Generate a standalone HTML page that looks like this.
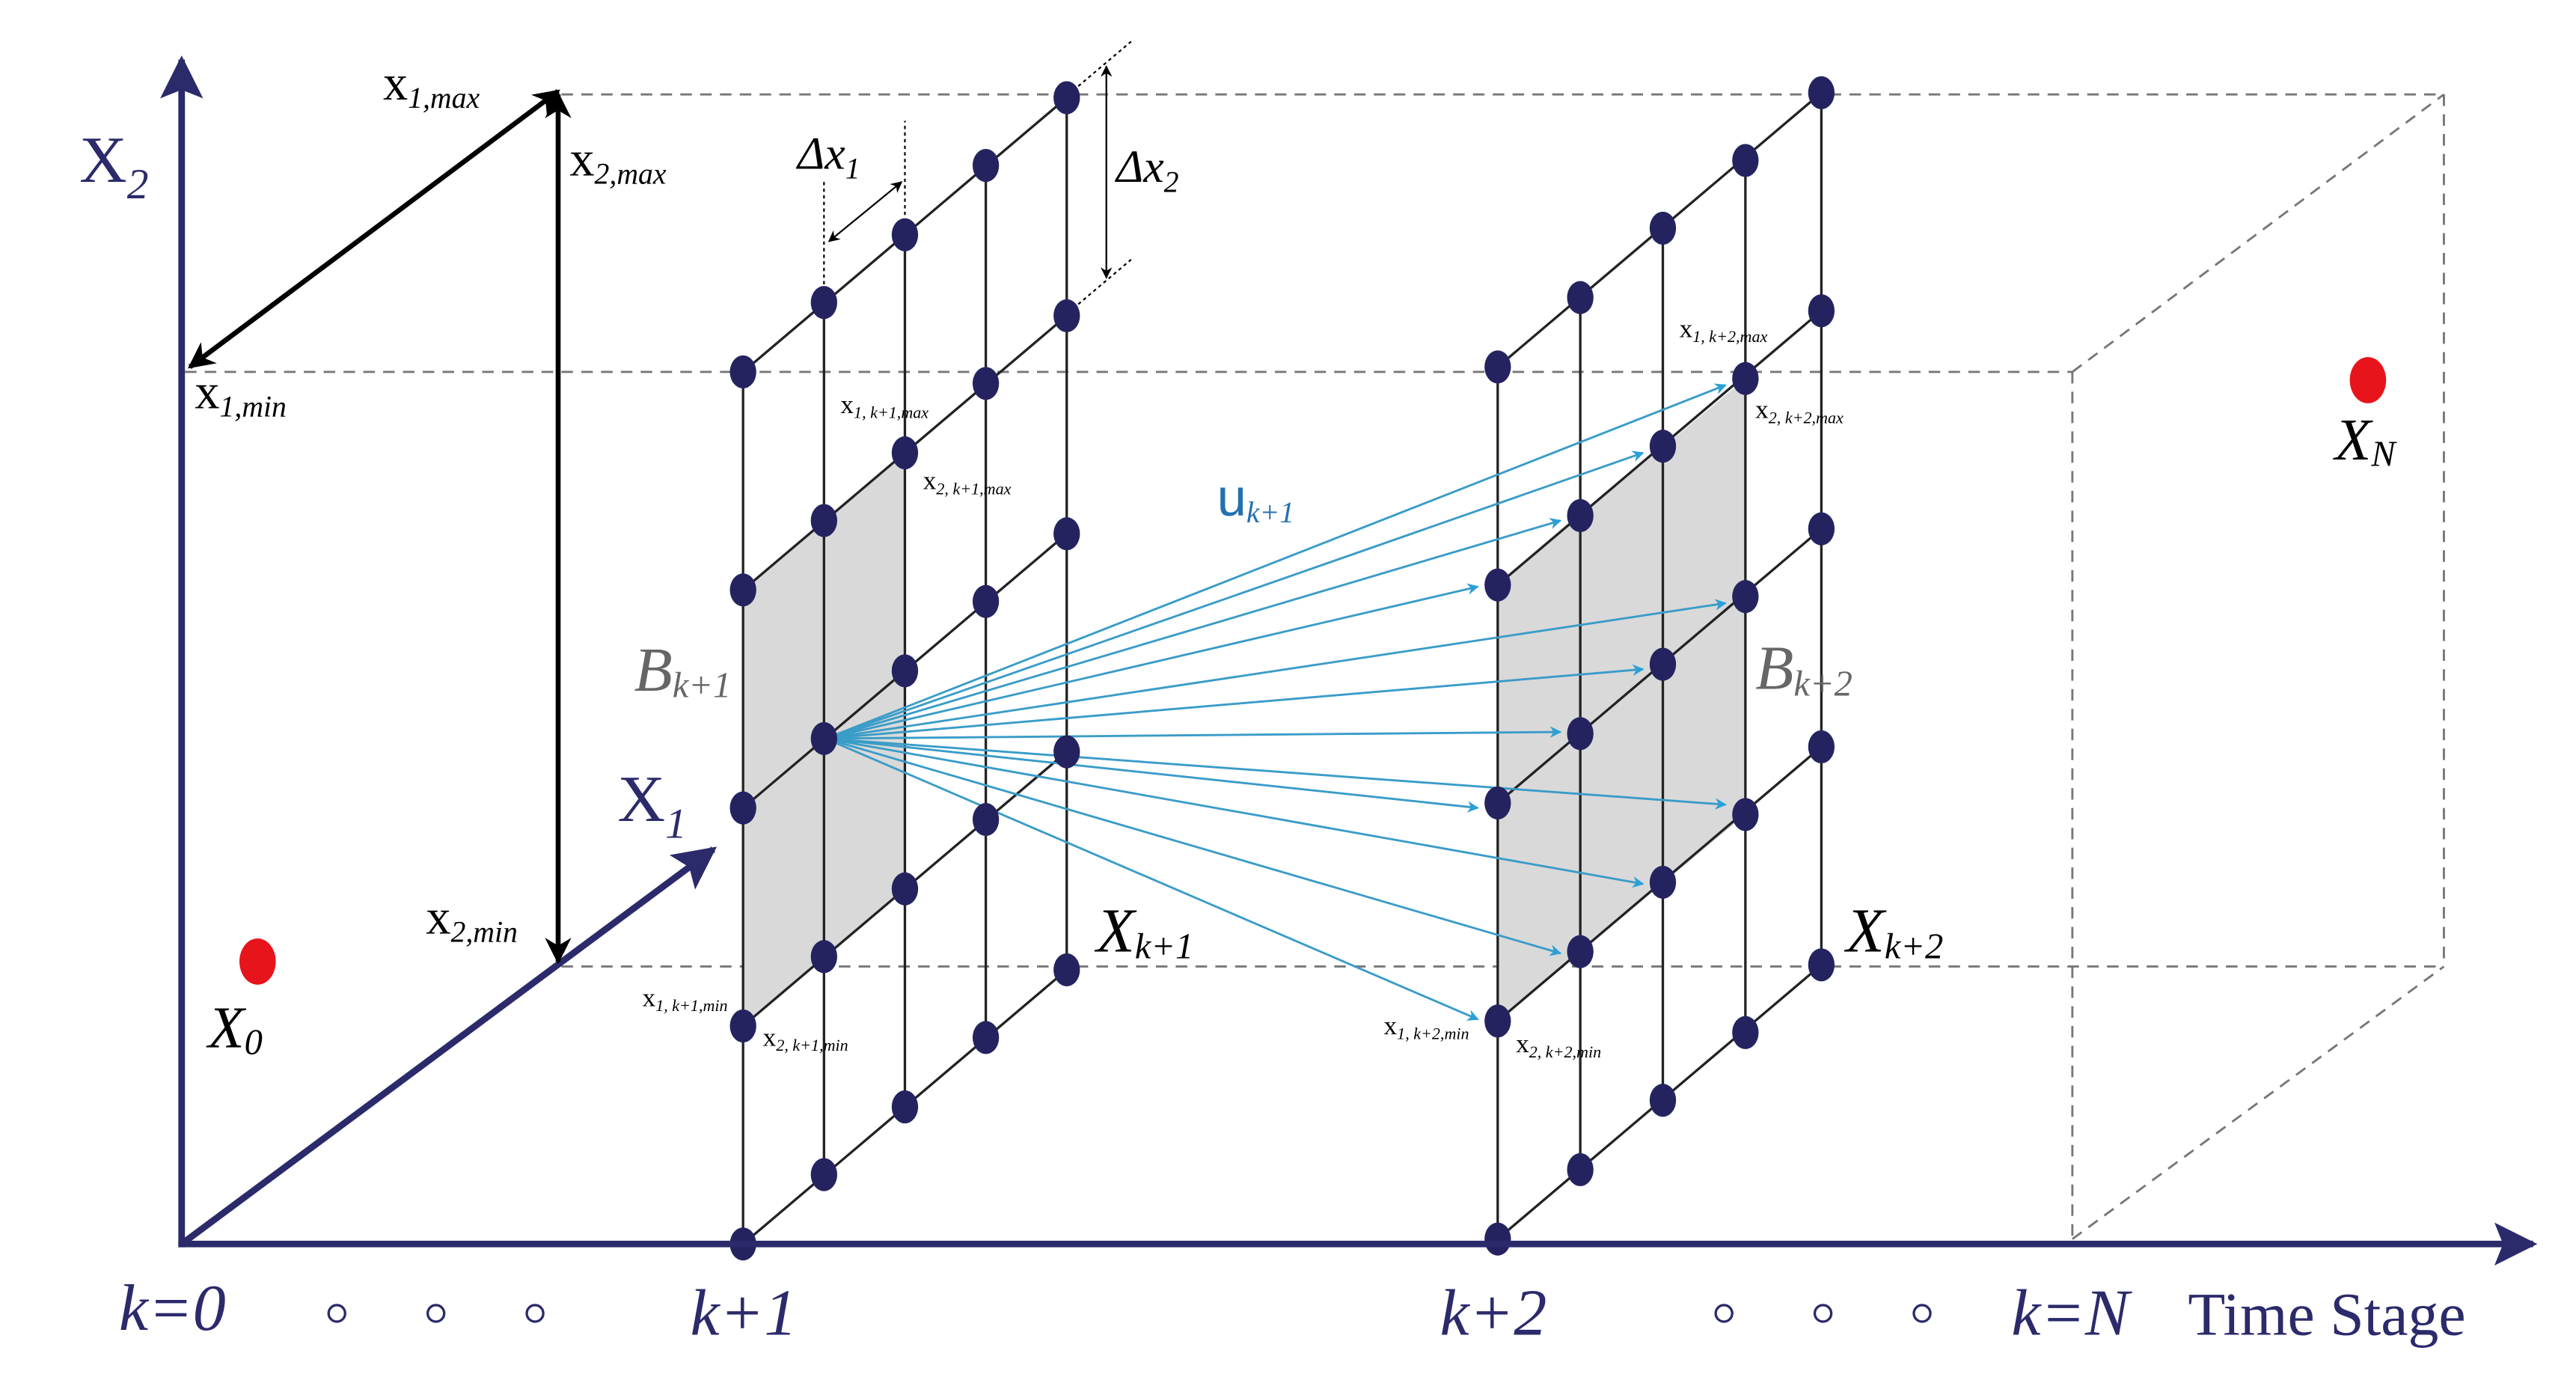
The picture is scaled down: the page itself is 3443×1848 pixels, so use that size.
<!DOCTYPE html>
<html><head><meta charset="utf-8"><style>html,body{margin:0;padding:0;background:#fff}svg{display:block}</style></head>
<body>
<svg width="3443" height="1848" viewBox="0 0 1560 837" xmlns="http://www.w3.org/2000/svg" font-family="'Liberation Serif', serif">
<defs>
<marker id="bl" viewBox="0 0 10 10" refX="9" refY="5" markerWidth="9" markerHeight="7" markerUnits="userSpaceOnUse" orient="auto"><path d="M0,0 L10,5 L0,10 L3,5 z" fill="#2aa0d6"/></marker>
<marker id="bk" viewBox="0 0 10 10" refX="9" refY="5" markerWidth="20" markerHeight="16" markerUnits="userSpaceOnUse" orient="auto-start-reverse"><path d="M0,0 L10,5 L0,10 L3,5 z" fill="#000"/></marker>
<marker id="sk" viewBox="0 0 10 10" refX="9" refY="5" markerWidth="9" markerHeight="7" markerUnits="userSpaceOnUse" orient="auto-start-reverse"><path d="M0,0 L10,5 L0,10 L3,5 z" fill="#000"/></marker>
<marker id="nv" viewBox="0 0 10 10" refX="9" refY="5" markerWidth="34" markerHeight="26" markerUnits="userSpaceOnUse" orient="auto"><path d="M0,0 L10,5 L0,10 L2,5 z" fill="#2b2a6b"/></marker>
</defs>

<!-- dashed -->
<g stroke="#777" stroke-width="1.3" stroke-dasharray="7,5" fill="none">
<line x1="112" y1="225" x2="1255" y2="225"/>
<line x1="340" y1="57" x2="1480" y2="57"/>
<line x1="340" y1="585" x2="1480" y2="585"/>
<line x1="1255" y1="225" x2="1480" y2="57"/>
<line x1="1255" y1="225" x2="1255" y2="750"/>
<line x1="1255" y1="750" x2="1480" y2="585"/>
<line x1="1480" y1="57" x2="1480" y2="585"/>
</g>

<!-- shaded planes -->
<polygon points="450,357 548,274 548,538 450,621" fill="#d9d9d9"/>
<polygon points="907,354 1057,229 1057,493 907,618" fill="#d9d9d9"/>

<!-- grid lines -->
<g stroke="#222" stroke-width="1.5" fill="none">
<line x1="450" y1="225" x2="450" y2="753"/><line x1="499" y1="183" x2="499" y2="711"/><line x1="548" y1="142" x2="548" y2="670"/><line x1="597" y1="100" x2="597" y2="628"/><line x1="646" y1="59" x2="646" y2="587"/>
<line x1="450" y1="225" x2="646" y2="59"/><line x1="450" y1="357" x2="646" y2="191"/><line x1="450" y1="489" x2="646" y2="323"/><line x1="450" y1="621" x2="646" y2="455"/><line x1="450" y1="753" x2="646" y2="587"/>
<line x1="907" y1="222" x2="907" y2="753"/><line x1="957" y1="180" x2="957" y2="708"/><line x1="1007" y1="138" x2="1007" y2="666"/><line x1="1057" y1="97" x2="1057" y2="625"/><line x1="1103" y1="56" x2="1103" y2="584"/>
<line x1="907" y1="222" x2="1103" y2="56"/><line x1="907" y1="354" x2="1103" y2="188"/><line x1="907" y1="486" x2="1103" y2="320"/><line x1="907" y1="618" x2="1103" y2="452"/><line x1="907" y1="750" x2="1103" y2="584"/>
</g>

<!-- blue arrows -->
<g stroke="#3a9cc8" stroke-width="1.3" marker-end="url(#bl)">
<line x1="500" y1="447" x2="1045" y2="233"/><line x1="500" y1="447" x2="995" y2="274"/><line x1="500" y1="447" x2="945" y2="315"/><line x1="500" y1="447" x2="895" y2="355"/>
<line x1="500" y1="447" x2="1045" y2="365"/><line x1="500" y1="447" x2="995" y2="405"/><line x1="500" y1="447" x2="945" y2="443"/><line x1="500" y1="447" x2="895" y2="489"/>
<line x1="500" y1="447" x2="1045" y2="487"/><line x1="500" y1="447" x2="995" y2="535"/><line x1="500" y1="447" x2="945" y2="577"/><line x1="500" y1="447" x2="895" y2="617"/>
</g>

<!-- dots -->
<g fill="#25235f">
<ellipse cx="450" cy="225" rx="8" ry="10"/><ellipse cx="450" cy="357" rx="8" ry="10"/><ellipse cx="450" cy="489" rx="8" ry="10"/><ellipse cx="450" cy="621" rx="8" ry="10"/><ellipse cx="450" cy="753" rx="8" ry="10"/>
<ellipse cx="499" cy="183" rx="8" ry="10"/><ellipse cx="499" cy="315" rx="8" ry="10"/><ellipse cx="499" cy="447" rx="8" ry="10"/><ellipse cx="499" cy="579" rx="8" ry="10"/><ellipse cx="499" cy="711" rx="8" ry="10"/>
<ellipse cx="548" cy="142" rx="8" ry="10"/><ellipse cx="548" cy="274" rx="8" ry="10"/><ellipse cx="548" cy="406" rx="8" ry="10"/><ellipse cx="548" cy="538" rx="8" ry="10"/><ellipse cx="548" cy="670" rx="8" ry="10"/>
<ellipse cx="597" cy="100" rx="8" ry="10"/><ellipse cx="597" cy="232" rx="8" ry="10"/><ellipse cx="597" cy="364" rx="8" ry="10"/><ellipse cx="597" cy="496" rx="8" ry="10"/><ellipse cx="597" cy="628" rx="8" ry="10"/>
<ellipse cx="646" cy="59" rx="8" ry="10"/><ellipse cx="646" cy="191" rx="8" ry="10"/><ellipse cx="646" cy="323" rx="8" ry="10"/><ellipse cx="646" cy="455" rx="8" ry="10"/><ellipse cx="646" cy="587" rx="8" ry="10"/>
<ellipse cx="907" cy="222" rx="8" ry="10"/><ellipse cx="907" cy="354" rx="8" ry="10"/><ellipse cx="907" cy="486" rx="8" ry="10"/><ellipse cx="907" cy="618" rx="8" ry="10"/><ellipse cx="907" cy="750" rx="8" ry="10"/>
<ellipse cx="957" cy="180" rx="8" ry="10"/><ellipse cx="957" cy="312" rx="8" ry="10"/><ellipse cx="957" cy="444" rx="8" ry="10"/><ellipse cx="957" cy="576" rx="8" ry="10"/><ellipse cx="957" cy="708" rx="8" ry="10"/>
<ellipse cx="1007" cy="138" rx="8" ry="10"/><ellipse cx="1007" cy="270" rx="8" ry="10"/><ellipse cx="1007" cy="402" rx="8" ry="10"/><ellipse cx="1007" cy="534" rx="8" ry="10"/><ellipse cx="1007" cy="666" rx="8" ry="10"/>
<ellipse cx="1057" cy="97" rx="8" ry="10"/><ellipse cx="1057" cy="229" rx="8" ry="10"/><ellipse cx="1057" cy="361" rx="8" ry="10"/><ellipse cx="1057" cy="493" rx="8" ry="10"/><ellipse cx="1057" cy="625" rx="8" ry="10"/>
<ellipse cx="1103" cy="56" rx="8" ry="10"/><ellipse cx="1103" cy="188" rx="8" ry="10"/><ellipse cx="1103" cy="320" rx="8" ry="10"/><ellipse cx="1103" cy="452" rx="8" ry="10"/><ellipse cx="1103" cy="584" rx="8" ry="10"/>
</g>

<!-- red dots -->
<ellipse cx="156" cy="582" rx="11" ry="14" fill="#e8141c"/>
<ellipse cx="1434" cy="230" rx="11" ry="14" fill="#e8141c"/>

<!-- axes -->
<g stroke="#2b2a6b" stroke-width="4" fill="none">
<line x1="110" y1="755" x2="110" y2="36" marker-end="url(#nv)"/>
<line x1="108" y1="753" x2="1534" y2="753" marker-end="url(#nv)"/>
<line x1="110" y1="753" x2="432" y2="514" marker-end="url(#nv)"/>
</g>

<!-- black range arrows -->
<g stroke="#000" stroke-width="3" fill="none">
<line x1="115" y1="222" x2="338" y2="55" marker-start="url(#bk)" marker-end="url(#bk)"/>
<line x1="338" y1="57" x2="338" y2="582" marker-start="url(#bk)" marker-end="url(#bk)"/>
</g>
<g stroke="#000" stroke-width="1" fill="none">
<line x1="499" y1="172" x2="499" y2="110" stroke-dasharray="2,2"/>
<line x1="548" y1="130" x2="548" y2="73" stroke-dasharray="2,2"/>
<line x1="653" y1="52" x2="685" y2="25" stroke-dasharray="2,2"/>
<line x1="653" y1="184" x2="685" y2="157" stroke-dasharray="2,2"/>
<line x1="502" y1="146" x2="546" y2="110" marker-start="url(#sk)" marker-end="url(#sk)"/>
<line x1="670" y1="40" x2="670" y2="168" marker-start="url(#sk)" marker-end="url(#sk)"/>
</g>

<!-- labels -->
<g font-style="normal">
<text x="48" y="110" font-size="40" fill="#2b2a6b">X<tspan font-size="26" dy="10" font-style="italic">2</tspan></text>
<text x="374" y="497" font-size="40" fill="#2b2a6b">X<tspan font-size="26" dy="10" font-style="italic">1</tspan></text>
<text x="232" y="60" font-size="30">x<tspan font-size="18" dy="5" font-style="italic">1,max</tspan></text>
<text x="345" y="106" font-size="30">x<tspan font-size="18" dy="5" font-style="italic">2,max</tspan></text>
<text x="118" y="247" font-size="30">x<tspan font-size="18" dy="5" font-style="italic">1,min</tspan></text>
<text x="258" y="565" font-size="30">x<tspan font-size="18" dy="5" font-style="italic">2,min</tspan></text>
<text x="483" y="102" font-size="28" font-style="italic">Δx<tspan font-size="18" dy="6">1</tspan></text>
<text x="676" y="110" font-size="28" font-style="italic">Δx<tspan font-size="18" dy="6">2</tspan></text>
<text x="509" y="250" font-size="16">x<tspan font-size="10" dy="3" font-style="italic">1, k+1,max</tspan></text>
<text x="559" y="296" font-size="16">x<tspan font-size="10" dy="3" font-style="italic">2, k+1,max</tspan></text>
<text x="389" y="609" font-size="16">x<tspan font-size="10" dy="3" font-style="italic">1, k+1,min</tspan></text>
<text x="462" y="633" font-size="16">x<tspan font-size="10" dy="3" font-style="italic">2, k+1,min</tspan></text>
<text x="1017" y="204" font-size="16">x<tspan font-size="10" dy="3" font-style="italic">1, k+2,max</tspan></text>
<text x="1063" y="253" font-size="16">x<tspan font-size="10" dy="3" font-style="italic">2, k+2,max</tspan></text>
<text x="838" y="626" font-size="16">x<tspan font-size="10" dy="3" font-style="italic">1, k+2,min</tspan></text>
<text x="918" y="637" font-size="16">x<tspan font-size="10" dy="3" font-style="italic">2, k+2,min</tspan></text>
<text x="737" y="312" font-size="32" fill="#2470b0" font-family="'Liberation Sans', sans-serif">u<tspan font-size="18" dy="4" font-style="italic" font-family="'Liberation Serif', serif">k+1</tspan></text>
<text x="384" y="418" font-size="38" font-style="italic" fill="#666">B<tspan font-size="22" dy="4">k+1</tspan></text>
<text x="1063" y="417" font-size="38" font-style="italic" fill="#666">B<tspan font-size="22" dy="4">k+2</tspan></text>
<text x="664" y="576" font-size="38" font-style="italic">X<tspan font-size="22" dy="4">k+1</tspan></text>
<text x="1118" y="576" font-size="38" font-style="italic">X<tspan font-size="22" dy="4">k+2</tspan></text>
<text x="126" y="634" font-size="36" font-style="italic">X<tspan font-size="22" dy="4">0</tspan></text>
<text x="1414" y="278" font-size="36" font-style="italic">X<tspan font-size="22" dy="4">N</tspan></text>
<text x="72" y="805" font-size="40" font-style="italic" fill="#2b2a6b">k=0</text>
<text x="418" y="808" font-size="40" font-style="italic" fill="#2b2a6b">k+1</text>
<text x="872" y="808" font-size="40" font-style="italic" fill="#2b2a6b">k+2</text>
<text x="1218" y="808" font-size="40" font-style="italic" fill="#2b2a6b">k=N</text>
<text x="1325" y="808" font-size="37" fill="#2b2a6b">Time Stage</text>
</g>
<g fill="none" stroke="#2b2a6b" stroke-width="1.5">
<circle cx="204" cy="795" r="5"/><circle cx="264" cy="795" r="5"/><circle cx="324" cy="795" r="5"/>
<circle cx="1044" cy="795" r="5"/><circle cx="1104" cy="795" r="5"/><circle cx="1164" cy="795" r="5"/>
</g>
</svg>
</body></html>
